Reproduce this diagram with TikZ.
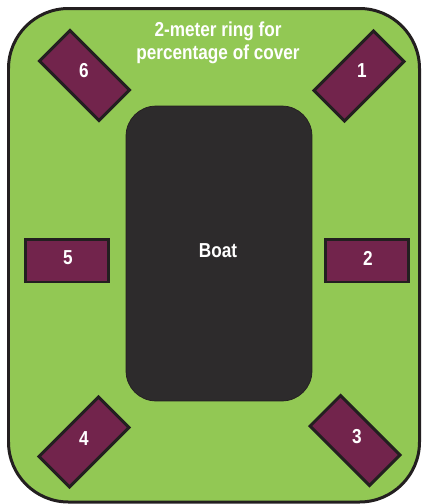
\documentclass[tikz,border=0pt]{standalone}
\usepackage{fontspec}
\setmainfont{Liberation Sans}[FakeStretch=0.85]
\usepackage{tikz}
\usetikzlibrary{positioning}

\definecolor{ringgreen}{RGB}{146,200,84}
\definecolor{padred}{RGB}{114,36,76}
\definecolor{boatgray}{RGB}{45,43,44}
\definecolor{edgeblack}{RGB}{35,31,32}

\tikzset{
  pad/.style={draw=edgeblack, fill=padred, line width=0.06cm,
    minimum width=1.68cm, minimum height=0.86cm, inner sep=0pt},
  padnum/.style={text=white, font=\bfseries\fontsize{11.5}{13}\selectfont},
}

\begin{document}
\begin{tikzpicture}[x=0.02cm, y=-0.02cm]
\useasboundingbox (0,0) rectangle (422,504);
% Draw ring
\draw[edgeblack, fill=ringgreen, line width=0.06cm, rounded corners=1.2cm]
  (8.5,8.5) rectangle (419.5,502);
\node[text=white, align=center, font=\bfseries\fontsize{11.5}{13}\selectfont]
  (title) at (218,43) {2-meter ring for\\percentage of cover};
% Draw boat
\node[draw=edgeblack, fill=boatgray, rounded corners=0.6cm,
  minimum width=3.72cm, minimum height=5.9cm, inner sep=0pt] (boat) at (219,253.5) {};
\node[padnum] at (218,251) {Boat};
% Mark pads
\node[pad, rotate=45] (p1) at (359,76) {};
\node[padnum] at (362,71) {1};
\node[pad] (p2) at (367,260.5) {};
\node[padnum] at (368,258) {2};
\node[pad, rotate=-45] (p3) at (355,440.5) {};
\node[padnum] at (357,437) {3};
\node[pad, rotate=45] (p4) at (84,442) {};
\node[padnum] at (84,439) {4};
\node[pad] (p5) at (67,260.5) {};
\node[padnum] at (68,258) {5};
\node[pad, rotate=-45] (p6) at (84.5,75.5) {};
\node[padnum] at (84,71) {6};
\end{tikzpicture}
\end{document}
